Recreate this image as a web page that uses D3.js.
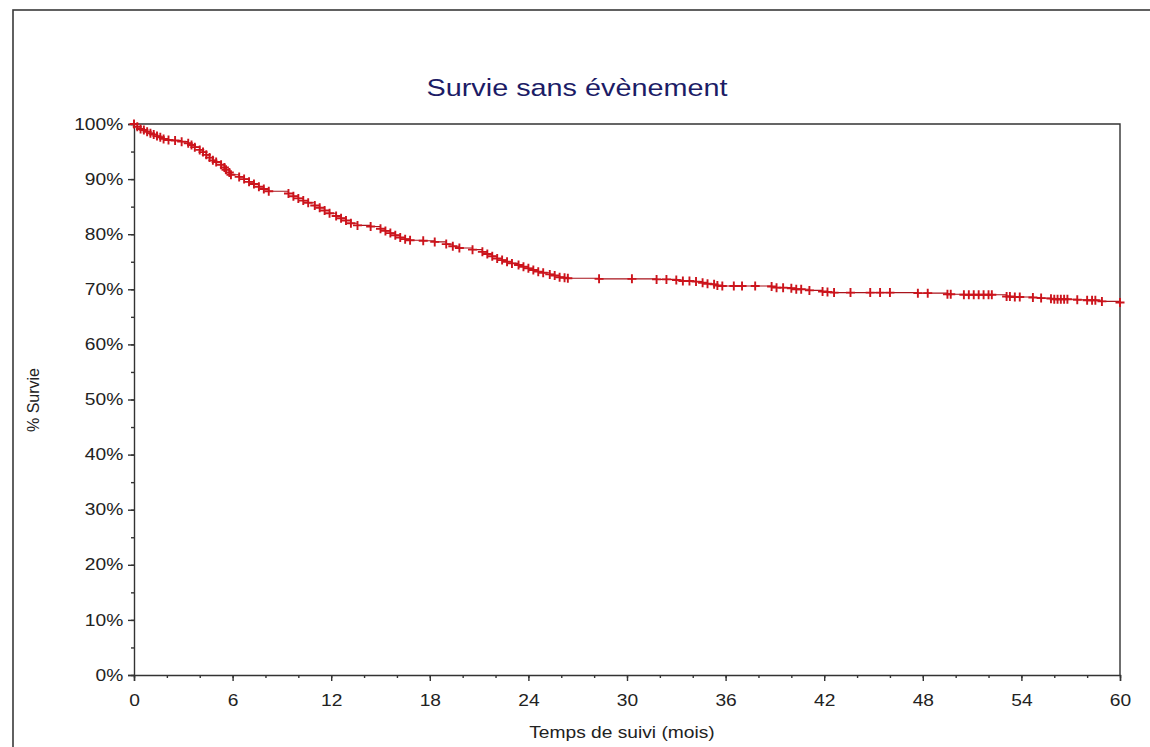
<!DOCTYPE html>
<html>
<head>
<meta charset="utf-8">
<script src="https://cdn.jsdelivr.net/npm/d3@7"></script>
<style>
  body { margin: 0; background: #fff; }
  text { font-family: "Liberation Sans", Arial, sans-serif; }
</style>
</head>
<body>
<div id="graph"></div>
<script>
var title = 'Survie sans évènement'
var xLabel = 'Temps de suivi (mois)'
var yLabel = '% Survie'

var xTicks = [0, 6, 12, 18, 24, 30, 36, 42, 48, 54, 60]
var yTicks = [0, 10, 20, 30, 40, 50, 60, 70, 80, 90, 100]

// follow-up time (months) of each censored patient and the survival at that time
var times = [0, 0.2, 0.4, 0.6, 0.8, 1.0, 1.2, 1.4, 1.6, 1.8, 2.1, 2.5, 2.9, 3.3, 3.5, 3.7,
  4.0, 4.2, 4.4, 4.6, 4.8, 5.0, 5.3, 5.5, 5.6, 5.8, 5.9, 6.4, 6.7, 7.0, 7.3, 7.6, 7.9, 8.2,
  9.4, 9.7, 10.0, 10.3, 10.6, 11.0, 11.3, 11.6, 11.9, 12.3, 12.6, 12.9, 13.2, 13.6, 14.4,
  15.0, 15.3, 15.6, 15.9, 16.2, 16.5, 16.8, 17.6, 18.3, 19.0, 19.4, 19.8, 20.6, 21.2, 21.5,
  21.8, 22.1, 22.4, 22.7, 23.0, 23.4, 23.7, 24.0, 24.3, 24.6, 24.9, 25.3, 25.6, 25.9, 26.2,
  26.4, 28.3, 30.3, 31.8, 32.4, 33.0, 33.4, 33.8, 34.2, 34.6, 34.9, 35.3, 35.5, 35.8, 36.5,
  37.0, 37.8, 38.8, 39.1, 39.5, 40.0, 40.3, 40.6, 41.1, 41.9, 42.2, 42.6, 43.6, 44.8, 45.4,
  46.0, 47.7, 48.3, 49.5, 49.7, 50.5, 50.8, 51.1, 51.4, 51.7, 52.0, 52.2, 53.1, 53.3, 53.6,
  53.9, 54.7, 55.2, 55.8, 56.0, 56.2, 56.4, 56.6, 56.8, 57.4, 58.0, 58.3, 58.5, 58.9, 60.0]
var survival = [100, 99.5, 99.1, 98.9, 98.6, 98.3, 98.1, 97.8, 97.6, 97.3, 97.1, 97.0, 96.8,
  96.5, 96.2, 95.8, 95.3, 94.9, 94.4, 93.9, 93.4, 93.1, 92.6, 92.1, 91.7, 91.2, 90.8, 90.4,
  90.0, 89.5, 89.1, 88.6, 88.2, 87.8, 87.4, 86.9, 86.5, 86.1, 85.7, 85.2, 84.8, 84.3, 83.8,
  83.3, 82.9, 82.5, 82.0, 81.6, 81.4, 81.0, 80.6, 80.2, 79.8, 79.4, 79.1, 78.9, 78.8, 78.6,
  78.2, 77.8, 77.5, 77.2, 76.8, 76.4, 76.0, 75.6, 75.3, 75.0, 74.7, 74.4, 74.1, 73.8, 73.5,
  73.2, 73.0, 72.7, 72.5, 72.2, 72.1, 72.0, 71.9, 71.9, 71.8, 71.8, 71.7, 71.5, 71.5, 71.4,
  71.2, 71.0, 70.9, 70.7, 70.6, 70.6, 70.6, 70.6, 70.5, 70.3, 70.3, 70.2, 70.0, 70.0, 69.8,
  69.6, 69.5, 69.4, 69.4, 69.4, 69.4, 69.4, 69.3, 69.3, 69.1, 69.1, 69.0, 69.0, 69.0, 69.0,
  69.0, 69.0, 69.0, 68.7, 68.7, 68.6, 68.6, 68.5, 68.4, 68.3, 68.2, 68.2, 68.2, 68.2, 68.2,
  68.1, 68.0, 68.0, 68.0, 67.8, 67.6]

function drawSurvival() {
  var width = 1150,
      height = 747,
      margin = {top: 124, right: 30, bottom: 72, left: 134},
      plotW = 1120 - margin.left,
      plotH = 675 - margin.top,
      stretch = 1.2

  var data = times.map((t, i) => ({t: t, s: survival[i]}))

  var svg = d3.select('#graph')
              .append('svg')
              .attr('width', width)
              .attr('height', height)

  // outer frame (runs off the right and bottom edge)
  svg.append('rect')
      .attr('x', 13).attr('y', 10)
      .attr('width', 1200).attr('height', 800)
      .attr('fill', 'none')
      .attr('stroke', '#3a3a3a')
      .attr('stroke-width', 1.6)

  var g = svg.append('g')
            .attr('transform', 'translate(' + margin.left + ',' + margin.top + ')')

  var xScale = d3.scaleLinear().domain([0, 60]).range([0, plotW])
  var yScale = d3.scaleLinear().domain([0, 100]).range([plotH, 0])

  // minor ticks
  g.append('g')
      .attr('class', 'minor')
      .attr('transform', 'translate(0,' + plotH + ')')
      .call(d3.axisBottom(xScale).tickValues(d3.range(0, 61, 2)).tickSize(3).tickFormat(''))
  g.append('g')
      .attr('class', 'minor')
      .call(d3.axisLeft(yScale).tickValues(d3.range(0, 101, 5)).tickSize(3).tickFormat(''))

  var xAxis = g.append('g')
      .attr('transform', 'translate(0,' + plotH + ')')
      .call(d3.axisBottom(xScale).tickValues(xTicks).tickSize(6).tickPadding(14))
  var yAxis = g.append('g')
      .call(d3.axisLeft(yScale).tickValues(yTicks).tickSize(6).tickPadding(3).tickFormat(d => d + '%'))

  g.selectAll('.domain, .tick line')
      .attr('stroke', '#333')
      .attr('stroke-width', 1.4)
  g.selectAll('.minor .domain').remove()

  xAxis.selectAll('text')
      .attr('font-size', 16)
      .attr('fill', '#222')
      .attr('transform', 'scale(' + stretch + ',1)')
  yAxis.selectAll('text')
      .attr('font-size', 16)
      .attr('fill', '#222')
      .attr('transform', 'scale(' + stretch + ',1)')

  // top and right border of the plot
  g.append('path')
      .attr('d', 'M0,0H' + plotW + 'V' + plotH)
      .attr('fill', 'none')
      .attr('stroke', '#333')
      .attr('stroke-width', 1.4)

  var line = d3.line()
               .x(d => xScale(d.t))
               .y(d => yScale(d.s))
               .curve(d3.curveStepAfter)

  g.append('path')
      .datum(data)
      .attr('d', line)
      .attr('fill', 'none')
      .attr('stroke', '#a8141c')
      .attr('stroke-width', 1.1)

  // censoring marks
  g.selectAll('.censor')
      .data(data)
      .enter()
      .append('path')
      .attr('class', 'censor')
      .attr('d', 'M-4.5,0H4.5M0,-4.5V4.5')
      .attr('transform', d => 'translate(' + xScale(d.t) + ',' + yScale(d.s) + ')')
      .attr('stroke', '#cc141c')
      .attr('stroke-width', 1.9)

  function addText(x, y, txt, size, color, rotate) {
    var tg = svg.append('g')
                .attr('transform', 'translate(' + x + ',' + y + ')' + (rotate ? ' rotate(-90)' : '') + ' scale(' + (rotate ? 1 : stretch) + ',1)')
    tg.append('text')
        .attr('text-anchor', 'middle')
        .attr('font-size', size)
        .attr('fill', color)
        .text(txt)
  }

  addText(577, 96, title, 24, '#1c1c66', false)
  addText(622, 738, xLabel, 16, '#222', false)
  addText(39, 400, yLabel, 16, '#222', true)
}

drawSurvival()
</script>
</body>
</html>
